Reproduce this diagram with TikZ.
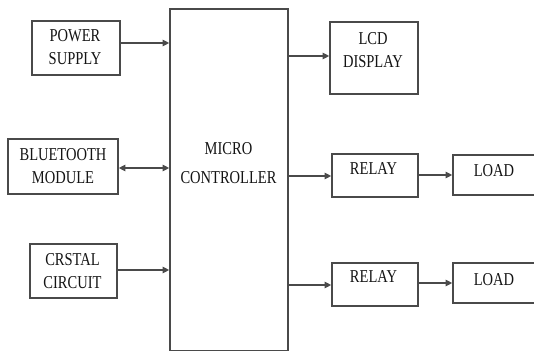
\documentclass[tikz,border=0pt]{standalone}
\usepackage{fontspec}
\setmainfont{Liberation Serif}[FakeStretch=0.8]
\usetikzlibrary{arrows.meta,fit}
\definecolor{linec}{HTML}{4A4A4A}
\definecolor{textc}{HTML}{141414}
\begin{document}
\begin{tikzpicture}[x=0.75pt,y=-0.75pt,
  box/.style={draw=linec, line width=1.1pt, inner sep=0pt},
  lbl/.style={align=center, font=\fontsize{13.6}{17.25}\selectfont, inner sep=0pt, text=textc},
  arr/.style={draw=linec, line width=1.1pt, -{Triangle[length=5pt,width=4.8pt]}},
  darr/.style={draw=linec, line width=1.1pt, {Triangle[length=5pt,width=4.8pt]}-{Triangle[length=5pt,width=4.8pt]}},
]
\useasboundingbox (0,0) rectangle (534,352);
\clip (0,0) rectangle (534,352);
\fill[white] (0,0) rectangle (534,352);
% boxes
\node[box, fit={(32,21) (120,75)}] (ps) {};
\node[box, fit={(8,139) (118,194)}] (bt) {};
\node[box, fit={(30,244) (117,298)}] (cr) {};
\node[box, fit={(170,9) (288,350.5)}] (mc) {};
\node[box, fit={(330,22) (418,94)}] (lcd) {};
\node[box, fit={(332,154) (418,197)}] (r1) {};
\node[box, fit={(453,155) (545,195)}] (l1) {};
\node[box, fit={(332,263) (418,306)}] (r2) {};
\node[box, fit={(453,263) (545,303)}] (l2) {};
% labels
\node[lbl] (tps) at (75,47) {POWER\\SUPPLY};
\node[lbl] (tbt) at (63,166) {BLUETOOTH\\MODULE};
\node[lbl] (tcr) at (72.5,271.5) {CRSTAL\\CIRCUIT};
\node[lbl, font=\fontsize{13.6}{21.75}\selectfont] (tmc) at (228.5,163.5) {MICRO\\CONTROLLER};
\node[lbl] (tlcd) at (373,50.5) {LCD\\DISPLAY};
\node[lbl] (tr1) at (373.5,169) {RELAY};
\node[lbl] (tr2) at (373.5,276.5) {RELAY};
\node[lbl] (tl1) at (494,171) {LOAD};
\node[lbl] (tl2) at (494,279.5) {LOAD};
% arrow levels
\coordinate (y1) at (0,43);
\coordinate (y2) at (0,168);
\coordinate (y3) at (0,270);
\coordinate (y4) at (0,56);
\coordinate (y5) at (0,176);
\coordinate (y6) at (0,175);
\coordinate (y7) at (0,285);
\coordinate (y8) at (0,283);
% connectors
\draw[arr] (ps.east |- y1) -- (mc.west |- y1);
\draw[darr] (bt.east |- y2) -- (mc.west |- y2);
\draw[arr] (cr.east |- y3) -- (mc.west |- y3);
\draw[arr] (mc.east |- y4) -- (lcd.west |- y4);
\draw[arr] (mc.east |- y5) -- (r1.west |- y5);
\draw[arr] (r1.east |- y6) -- (l1.west |- y6);
\draw[arr] (mc.east |- y7) -- (r2.west |- y7);
\draw[arr] (r2.east |- y8) -- (l2.west |- y8);
\end{tikzpicture}
\end{document}
